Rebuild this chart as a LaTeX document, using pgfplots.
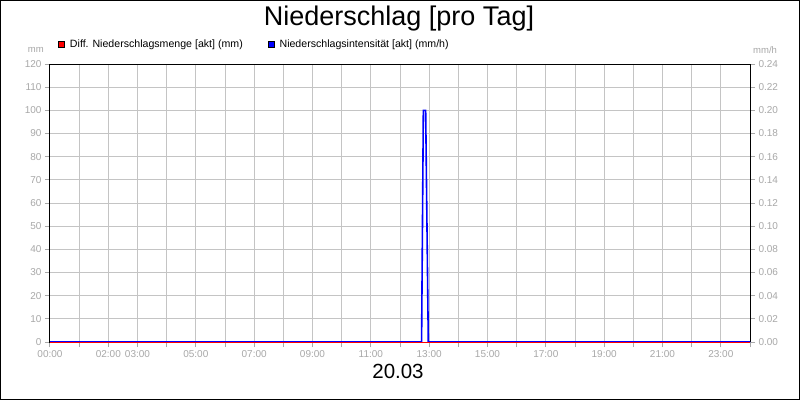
\documentclass[border=0pt]{standalone}
\usepackage{pgfplots}
\pgfplotsset{compat=1.18}
\usepackage{fontspec}
\setmainfont{Liberation Sans}
\definecolor{tickgray}{HTML}{A8A8A8}
\definecolor{gridgray}{HTML}{C4C4C4}
\begin{document}
\begin{tikzpicture}[x=1pt,y=1pt]
\useasboundingbox (0,0) rectangle (800,400);
\fill[white] (0,0) rectangle (800,400);
\begin{axis}[
  at={(50pt,58pt)}, anchor=south west, scale only axis,
  width=700pt, height=278pt,
  xmin=0, xmax=24, ymin=0, ymax=120,
  xtick={0,...,24},
  xticklabels={00:00,,02:00,03:00,,05:00,,07:00,,09:00,,11:00,,13:00,,15:00,,17:00,,19:00,,21:00,,23:00,},
  ytick={0,10,...,120},
  grid=major, major grid style={gridgray, line width=1pt},
  axis line style={black, line width=1pt},
  tick style={tickgray, line width=1pt}, major tick length=5pt, tick align=outside,
  xtick pos=bottom, ytick pos=left,
  ticklabel style={font=\fontsize{10}{11}\selectfont, text=tickgray},
  /pgf/number format/assume math mode=true,
]
\end{axis}
\begin{axis}[
  at={(50pt,58pt)}, anchor=south west, scale only axis,
  width=700pt, height=278pt,
  xmin=0, xmax=24, ymin=0, ymax=0.24,
  axis x line=none, axis y line*=right,
  ytick={0,0.02,0.04,0.06,0.08,0.10,0.12,0.14,0.16,0.18,0.20,0.22,0.24},
  yticklabel style={/pgf/number format/.cd, fixed, fixed zerofill, precision=2},
  axis line style={black, line width=1pt},
  tick style={tickgray, line width=1pt}, major tick length=5pt, tick align=outside,
  ytick pos=right,
  ticklabel style={font=\fontsize{10}{11}\selectfont, text=tickgray},
  /pgf/number format/assume math mode=true,
  clip=false,
  legend columns=2,
  legend style={at={(axis description cs:0,1)}, anchor=west, xshift=8pt, yshift=20pt,
    draw=none, fill=none, inner sep=0pt, font=\fontsize{10.6}{11}\selectfont,
    nodes={inner sep=0pt},
    /tikz/every odd column/.append style={column sep=5pt},
    /tikz/every even column/.append style={column sep=25pt}},
]
\addplot[blue, line width=1.6pt, forget plot] coordinates {
  (0,0) (12.74,0) (12.80,0.2) (12.88,0.2) (12.97,0) (24,0)};
\addplot[red, line width=1.2pt, yshift=-0.6pt, forget plot] coordinates {(0,0) (24,0)};
\addlegendimage{legend image code/.code={\draw[fill=red, draw=black, line width=0.8pt] (0pt,-3pt) rectangle (6pt,3pt);}}
\addlegendentry{Diff. Niederschlagsmenge [akt] (mm)}
\addlegendimage{legend image code/.code={\draw[fill=blue, draw=black, line width=0.8pt] (0pt,-3pt) rectangle (6pt,3pt);}}
\addlegendentry{Niederschlagsintensität [akt] (mm/h)}
\end{axis}
\node[anchor=base, font=\fontsize{27}{29}\selectfont] at (399,374) {Niederschlag [pro Tag]};
\node[anchor=base, font=\fontsize{20.5}{22}\selectfont] at (398,22) {20.03};
\node[anchor=east, inner sep=0pt, font=\fontsize{9.5}{10}\selectfont, text=tickgray] at (44,350) {mm};
\node[anchor=west, inner sep=0pt, font=\fontsize{9.5}{10}\selectfont, text=tickgray] at (753,350) {mm/h};
\draw[black, line width=1pt] (0.5,0.5) rectangle (799.5,399.5);
\end{tikzpicture}
\end{document}
